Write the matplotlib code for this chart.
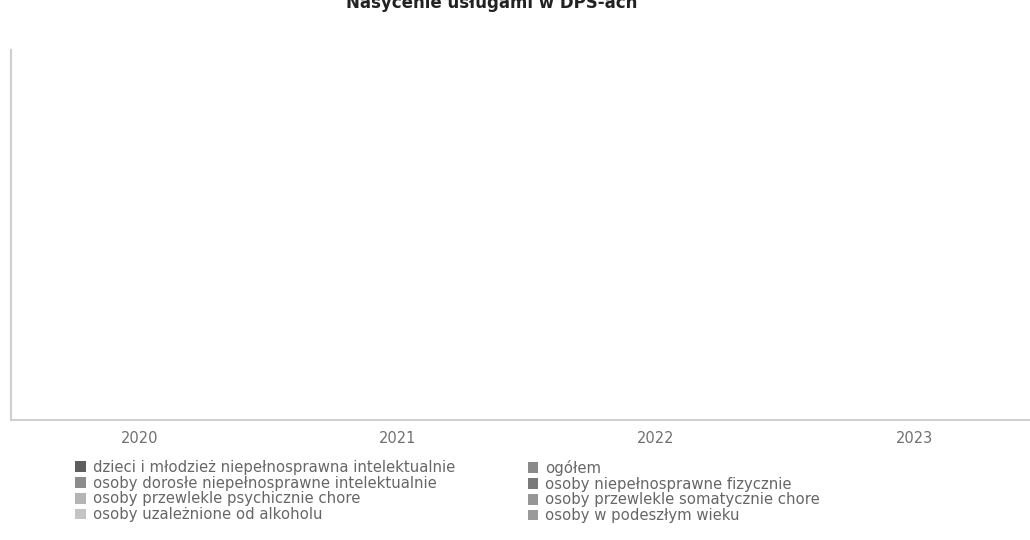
import matplotlib
matplotlib.use("Agg")
import matplotlib.pyplot as plt
import numpy as np

plt.rcParams['font.family'] = ['DejaVu Sans']

# lata na osi x
lata = ['2020', '2021', '2022', '2023']

# serie - na wykresie nie widac zadnych slupkow, wiec same zera
dzieci_mlodziez = [0, 0, 0, 0]
dorosli_intelekt = [0, 0, 0, 0]
psychicznie_chore = [0, 0, 0, 0]
uzaleznione = [0, 0, 0, 0]
ogolem = [0, 0, 0, 0]
fizycznie = [0, 0, 0, 0]
somatycznie_chore = [0, 0, 0, 0]
podeszly_wiek = [0, 0, 0, 0]

nazwy = ['dzieci i młodzież niepełnosprawna intelektualnie',
         'osoby dorosłe niepełnosprawne intelektualnie',
         'osoby przewlekle psychicznie chore',
         'osoby uzależnione od alkoholu',
         'ogółem',
         'osoby niepełnosprawne fizycznie',
         'osoby przewlekle somatycznie chore',
         'osoby w podeszłym wieku']
serie = [dzieci_mlodziez, dorosli_intelekt, psychicznie_chore, uzaleznione,
         ogolem, fizycznie, somatycznie_chore, podeszly_wiek]
kolory = ['#5e5e5e', '#8c8c8c', '#b4b4b4', '#c4c4c4',
          '#8a8a8a', '#7a7a7a', '#969696', '#9a9a9a']

fig = plt.figure(figsize=(10.3, 5.4), dpi=100)
ax = fig.add_axes([0.0107, 0.222, 1.002, 0.685])

x = np.arange(len(lata))
w = 0.8 / len(serie)
handles = []
for i in range(len(serie)):
    b = ax.bar(x - 0.4 + w * (i + 0.5), serie[i], width=w, color=kolory[i], label=nazwy[i])
    handles.append(b)

ax.set_xlim(-0.5, 3.5)
ax.set_ylim(0, 1)
ax.set_xticks(x)
ax.set_xticklabels(lata, fontsize=10.5, color='#707070')
ax.tick_params(axis='x', length=0, pad=8)
ax.set_yticks([])
for s in ['top', 'right']:
    ax.spines[s].set_visible(False)
for s in ['left', 'bottom']:
    ax.spines[s].set_color('#cfcfcf')
    ax.spines[s].set_linewidth(1.5)

# tytul przyciety u gory (skan)
fig.text(0.477, 0.995, 'Nasycenie usługami w DPS-ach', ha='center', va='center',
         fontsize=12, fontweight='bold', color='#222222')

# legenda w dwoch kolumnach
opcje = dict(loc='upper left', frameon=False, fontsize=10.7, handlelength=0.72,
             handleheight=0.72, handletextpad=0.45, labelspacing=0.05, borderpad=0,
             labelcolor='#666666')
leg1 = fig.legend(handles[:4], nazwy[:4], bbox_to_anchor=(0.066, 0.162), **opcje)
leg2 = fig.legend(handles[4:], nazwy[4:], bbox_to_anchor=(0.505, 0.162), **opcje)

fig.savefig('out.png', dpi=100)
